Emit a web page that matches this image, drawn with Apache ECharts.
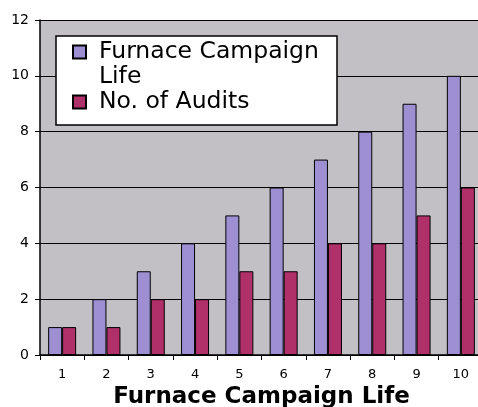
<!DOCTYPE html>
<html>
<head>
<meta charset="utf-8">
<script src="https://cdn.jsdelivr.net/npm/echarts@6/dist/echarts.min.js"></script>
<style>
  html, body { margin: 0; padding: 0; background: #fff; }
  #chart { width: 478px; height: 407px; }
</style>
</head>
<body>
<div id="chart"></div>
<script>
const categories = ['1', '2', '3', '4', '5', '6', '7', '8', '9', '10']
const campaignLife = [1, 2, 3, 4, 5, 6, 7, 8, 9, 10]
const audits = [1, 1, 2, 2, 3, 3, 4, 4, 5, 6]
const yTicks = [0, 2, 4, 6, 8, 10, 12]

const chart = echarts.init(document.getElementById('chart'))

chart.setOption({
  animation: false,
  textStyle: { fontFamily: 'DejaVu Sans' },
  grid: {
    left: 40,
    top: 20,
    width: 443,
    height: 335,
    outerBoundsMode: 'none',
    show: true,
    backgroundColor: '#c3c0c5',
    borderWidth: 0
  },
  // legend box drawn separately so the first icon can sit on the first text line
  graphic: [{
    type: 'rect',
    z: 3,
    shape: { x: 56, y: 36, width: 281, height: 89 },
    style: { fill: '#fff', stroke: '#000', lineWidth: 1.5 }
  }],
  legend: {
    left: 72,
    top: 14.5,
    orient: 'vertical',
    padding: 0,
    itemGap: 0,
    itemWidth: 13,
    itemHeight: 13,
    icon: 'rect',
    z: 5,
    // blank first line keeps "Furnace Campaign" level with its icon
    formatter: name => name === 'Furnace Campaign Life' ? ' \nFurnace Campaign\nLife' : name,
    textStyle: { fontSize: 23.5, lineHeight: 25, color: '#000', padding: [0, 0, 0, 8] }
  },
  xAxis: {
    type: 'category',
    data: categories,
    name: 'Furnace Campaign Life',
    nameLocation: 'middle',
    nameGap: 28,
    nameTextStyle: { fontSize: 23, fontWeight: 'bold', color: '#000' },
    axisLine: { lineStyle: { color: '#000', width: 1.5 } },
    axisTick: { show: true, length: 5, lineStyle: { color: '#000' } },
    axisLabel: { fontSize: 13, color: '#000', margin: 13 }
  },
  yAxis: {
    type: 'value',
    min: yTicks[0],
    max: yTicks[yTicks.length - 1],
    interval: 2,
    axisLine: { show: true, lineStyle: { color: '#000', width: 1.5 } },
    axisTick: { show: true, length: 5, lineStyle: { color: '#000' } },
    axisLabel: { fontSize: 14, color: '#000', margin: 11 },
    splitLine: { lineStyle: { color: '#000', width: 1.2 } }
  },
  series: [
    {
      name: 'Furnace Campaign Life',
      type: 'bar',
      data: campaignLife,
      barWidth: 14,
      barGap: '0%',
      itemStyle: { color: '#9d8fd2', borderColor: '#000', borderWidth: 1 }
    },
    {
      name: 'No. of Audits',
      type: 'bar',
      data: audits,
      barWidth: 14,
      itemStyle: { color: '#b0306a', borderColor: '#000', borderWidth: 1 }
    }
  ]
})
</script>
</body>
</html>
